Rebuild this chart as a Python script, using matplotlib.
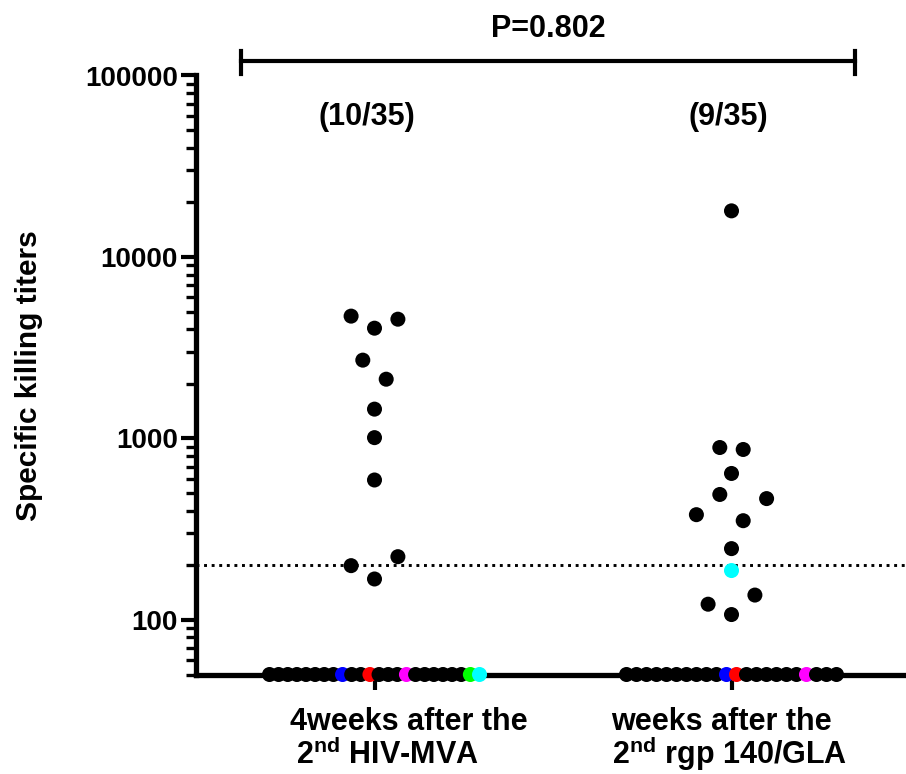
import numpy as np
import matplotlib
matplotlib.use("Agg")
import matplotlib.pyplot as plt
from matplotlib.ticker import LogLocator, FuncFormatter, NullFormatter
from matplotlib.transforms import blended_transform_factory

plt.rcParams["font.family"] = ["Liberation Sans", "DejaVu Sans"]
plt.rcParams["font.weight"] = "bold"
plt.rcParams["mathtext.fontset"] = "custom"
plt.rcParams["mathtext.bf"] = "Liberation Sans:bold"
plt.rcParams["mathtext.rm"] = "Liberation Sans:bold"

# =========================
# DATA
# =========================
LOD_FLOOR = 50          # undetectable titers are plotted on the axis floor
CUTOFF = 200            # positivity threshold (dotted line)

categories = [0, 1]
responders = ["(10/35)", "(9/35)"]
p_value = "P=0.802"

# 4 weeks after the 2nd HIV-MVA
mva_values = [4720, 4050, 4540, 2700, 2120, 1450, 1010, 590, 199, 168, 223] + [LOD_FLOOR] * 24
mva_colors = ["black"] * 11 + ["black"] * 24
for i, c in {8: "blue", 11: "red", 15: "magenta", 22: "lime", 23: "cyan"}.items():
    mva_colors[11 + i] = c

# weeks after the 2nd rgp 140/GLA
gla_values = [17950, 891, 869, 641, 380, 491, 352, 466, 247, 187, 122, 107, 137] + [LOD_FLOOR] * 22
gla_colors = ["black"] * 9 + ["cyan"] + ["black"] * 3 + ["black"] * 22
for i, c in {10: "blue", 11: "red", 18: "magenta"}.items():
    gla_colors[13 + i] = c


def swarm_x(ax, values, center, row_gap=20, step=23.4, max_width=210):
    """Prism-like scatter layout: points close in y share a row, centred."""
    pts = np.column_stack([np.full(len(values), float(center)), values])
    ypix = ax.transData.transform(pts)[:, 1]
    order = np.argsort(-ypix, kind="stable")
    rows = []
    for i in order:
        if rows and abs(ypix[rows[-1][-1]] - ypix[i]) <= row_gap:
            rows[-1].append(i)
        else:
            rows.append([i])
    px_unit = ax.transData.transform((1, 1))[0] - ax.transData.transform((0, 1))[0]
    x = np.full(len(values), float(center))
    for row in rows:
        row = sorted(row)
        n = len(row)
        sp = step if n == 1 else min(step, max_width / (n - 1))
        for k, i in enumerate(row):
            x[i] = center + (k - (n - 1) / 2) * sp / px_unit
    return x


fig = plt.figure(figsize=(9.06, 7.74), dpi=100)
ax = fig.add_axes([196 / 906, 99.5 / 774, 714 / 906, 599 / 774])
ax.set_yscale("log")
ax.set_xlim(-0.5, 1.5)
ax.set_ylim(LOD_FLOOR, 100000)

for s in ["top", "right"]:
    ax.spines[s].set_visible(False)
for s in ["left", "bottom"]:
    ax.spines[s].set_linewidth(3.8)

ax.yaxis.set_major_locator(LogLocator(base=10))
ax.yaxis.set_minor_locator(LogLocator(base=10, subs=np.arange(2, 10)))
ax.yaxis.set_major_formatter(FuncFormatter(lambda v, p: f"{int(round(v))}"))
ax.yaxis.set_minor_formatter(NullFormatter())
ax.tick_params(axis="y", which="major", length=11, width=3, pad=2, labelsize=20)
ax.tick_params(axis="y", which="minor", length=7.5, width=2.4)
ax.set_xticks(categories)
ax.set_xticklabels(["", ""])
ax.tick_params(axis="x", which="major", length=11, width=3)

ax.axhline(CUTOFF, color="black", lw=2.1, ls=(0, (1, 1.6)), zorder=2)

for cx, vals, cols in [(0, mva_values, mva_colors), (1, gla_values, gla_colors)]:
    xs = swarm_x(ax, vals, cx)
    ax.scatter(xs, vals, s=117, c=cols, linewidths=0, zorder=5, clip_on=False)

bt = blended_transform_factory(ax.transData, ax.transAxes)

# significance bracket
x0, x1, yb = -0.375, 1.347, 1.0234
ax.plot([x0, x1], [yb, yb], color="black", lw=3, transform=bt, clip_on=False)
for xe in (x0, x1):
    ax.plot([xe, xe], [1.0017, 1.0401], color="black", lw=3, transform=bt, clip_on=False)
ax.text(0.487, 1.078, p_value, transform=bt, ha="center", va="center",
        fontsize=22, fontweight="bold")

ax.text(-0.022, 0.931, responders[0], transform=bt, ha="center", va="center",
        fontsize=22, fontweight="bold")
ax.text(0.992, 0.931, responders[1], transform=bt, ha="center", va="center",
        fontsize=22, fontweight="bold")

# group labels
ax.text(-0.238, -0.0927, "4weeks after the", transform=bt, ha="left", va="baseline",
        fontsize=22, fontweight="bold")
ax.text(-0.221, -0.150, r"2$^{\mathbf{nd}}$ HIV-MVA", transform=bt, ha="left",
        va="baseline", fontsize=22, fontweight="bold")
ax.text(0.664, -0.0927, "weeks after the", transform=bt, ha="left", va="baseline",
        fontsize=22, fontweight="bold")
ax.text(0.664, -0.150, r"2$^{\mathbf{nd}}$ rgp 140/GLA", transform=bt, ha="left",
        va="baseline", fontsize=22, fontweight="bold")

fig.text(29 / 906, 1 - 376 / 774, "Specific killing titers", rotation=90,
         ha="center", va="center", fontsize=21.5, fontweight="bold")

fig.savefig("out.png", dpi=100)
